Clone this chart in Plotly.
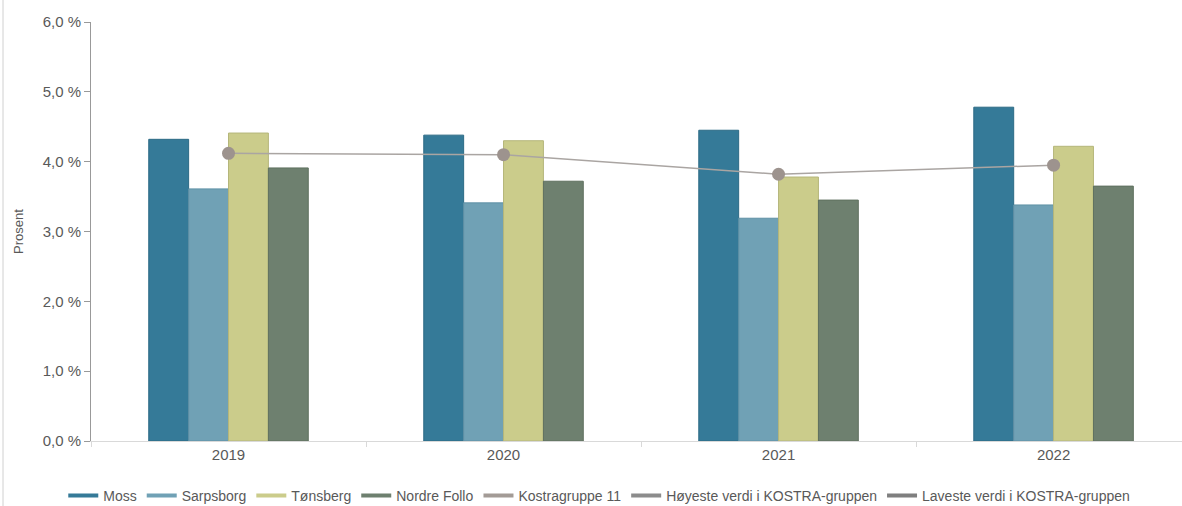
import plotly.graph_objects as go

years = ["2019", "2020", "2021", "2022"]
moss = [4.32, 4.38, 4.45, 4.78]
sarpsborg = [3.61, 3.41, 3.19, 3.38]
tonsberg = [4.41, 4.30, 3.78, 4.22]
nordre_follo = [3.91, 3.72, 3.45, 3.65]
kostra11 = [4.12, 4.10, 3.82, 3.95]

bar_series = [
    ("Moss", moss, "#357a98", "#2c6a85"),
    ("Sarpsborg", sarpsborg, "#70a1b5", "#5f91a6"),
    ("Tønsberg", tonsberg, "#cbcc8b", "#b5b67a"),
    ("Nordre Follo", nordre_follo, "#6e806f", "#5f705f"),
]

fig = go.Figure()
for name, vals, col, edge in bar_series:
    fig.add_trace(go.Bar(
        x=years, y=vals, name=name, showlegend=False,
        marker=dict(color=col, line=dict(color=edge, width=1)),
    ))

fig.add_trace(go.Scatter(
    x=years, y=kostra11, name="Kostragruppe 11", mode="lines+markers",
    line=dict(color="#aaa5a2", width=1.5),
    marker=dict(color="#9d938e", size=13), showlegend=False,
))

legend_items = [
    ("Moss", "#357a98"),
    ("Sarpsborg", "#70a1b5"),
    ("Tønsberg", "#cbcc8b"),
    ("Nordre Follo", "#6e806f"),
    ("Kostragruppe 11", "#a39b96"),
    ("Høyeste verdi i KOSTRA-gruppen", "#8c8c8c"),
    ("Laveste verdi i KOSTRA-gruppen", "#7f7f7f"),
]
for name, col in legend_items:
    fig.add_trace(go.Scatter(
        x=[None], y=[None], name=name, mode="lines",
        line=dict(color=col, width=4), showlegend=True,
    ))

fig.update_layout(
    width=1182, height=506, autosize=False,
    margin=dict(l=91, r=0, t=22, b=65, autoexpand=False),
    paper_bgcolor="white", plot_bgcolor="white",
    barmode="group", bargap=0.42, bargroupgap=0,
    font=dict(family="Liberation Sans, Arial", size=15, color="#595959"),
    legend=dict(orientation="h", xref="container", x=0.507, xanchor="center",
                y=-0.093, yanchor="top",
                font=dict(size=14, color="#595959"), itemwidth=30, tracegroupgap=0),
    xaxis=dict(
        type="category", categoryorder="array", categoryarray=years,
        range=[-0.5, 3.467], tickson="boundaries",
        showline=True, linecolor="#d9d9d9", linewidth=1,
        ticks="outside", ticklen=5, tickcolor="#d9d9d9",
        showgrid=False, tickfont=dict(size=15, color="#595959"),
    ),
    yaxis=dict(
        range=[0, 6], tickvals=[0, 1, 2, 3, 4, 5, 6],
        ticktext=["0,0 %", "1,0 %", "2,0 %", "3,0 %", "4,0 %", "5,0 %", "6,0 %"],
        showline=True, linecolor="#999999", linewidth=1,
        ticks="outside", ticklen=6, tickcolor="#999999",
        showgrid=False, zeroline=False,
        title=dict(text="Prosent", font=dict(size=13, color="#595959"), standoff=16),
        tickfont=dict(size=15, color="#595959"),
    ),
)

fig.add_shape(type="line", xref="paper", yref="paper", x0=-88/1091, x1=-88/1091,
              y0=-65/419, y1=1 + 22/419, line=dict(color="#d0d0d0", width=1))

post = (
    "document.documentElement.style.margin='0';"
    "document.body.style.margin='0';"
    "document.body.style.overflow='hidden';"
    "var gd=document.getElementById('{plot_id}');"
    "Plotly.relayout(gd,{width:1182,height:506});"
)
fig.write_html("out.html", post_script=post,
               config={"responsive": False, "displayModeBar": False})
